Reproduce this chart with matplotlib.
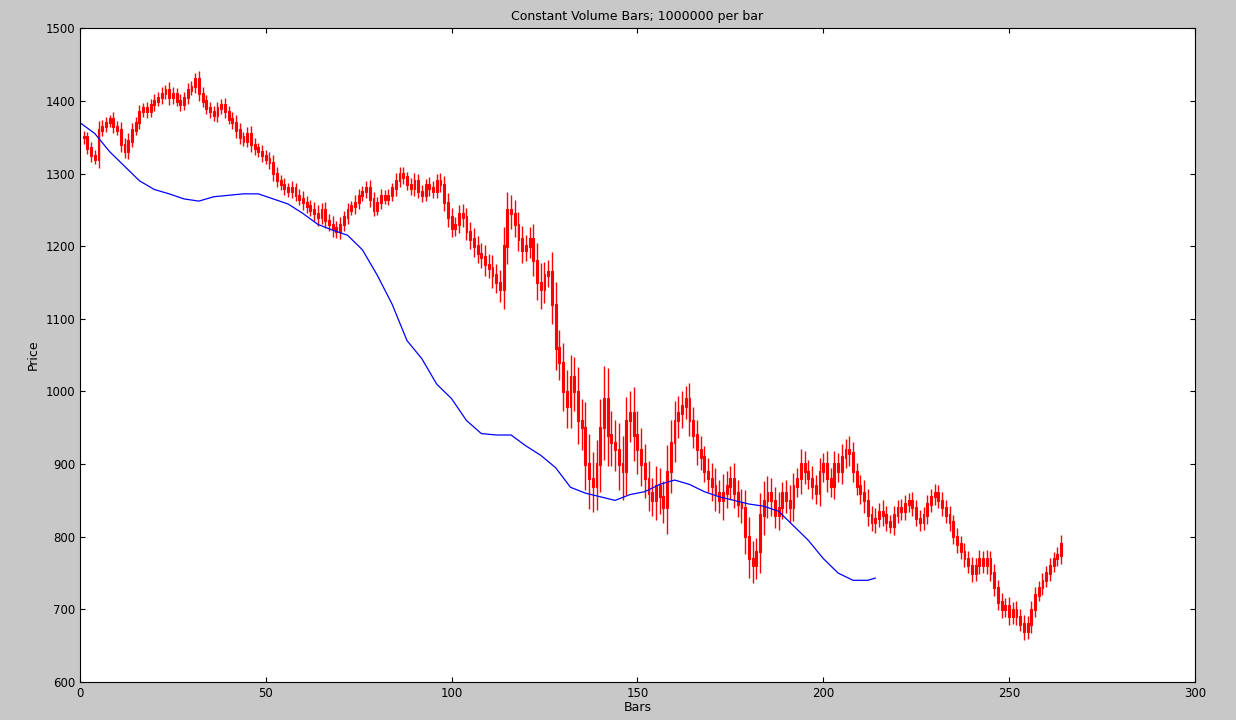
import numpy as np
import matplotlib.pyplot as plt

# closing price per bar
closes = [1350,1335,1325,1320,1360,1365,
          1370,1375,1365,1360,1340, 1330,1345,1360,1370,1385,
          1390,1385,1395,1400,1405, 1410,1415,1405,1410,1400,
          1395,1405,1415,1420,1430, 1410,1400,1390,1385,1380,
          1390,1395,1385,1375,1370, 1360,1350,1345,1355,1340,
          1335,1330,1325,1320,1315, 1300,1290,1285,1280,1275,
          1280,1270,1265,1260,1255, 1250,1245,1240,1250,1235,
          1230,1225,1220,1230,1240, 1250,1255,1260,1270,1275,
          1280,1265,1250,1260,1270, 1265,1270,1280,1290,1300,
          1295,1285,1280,1290,1275, 1270,1285,1280,1275,1290,
          1285,1260,1240,1225,1230, 1245,1240,1220,1210,1200,
          1190,1185,1175,1170,1160, 1150,1140,1200,1250,1245,
          1230,1210,1195,1200,1210, 1180,1150,1140,1160,1165,
          1120,1060,1040,1000,980, 1020,1000,960,950,900,
          880,870,900,950,990, 940,930,920,900,890,
          960,970,940,920,900, 880,860,850,870,855,
          840,890,930,960,970, 980,990,960,940,920,
          910,890,880,870,860, 850,860,870,880,860,
          845,840,800,770,760, 780,830,850,860,850,
          830,840,860,850,840, 870,880,900,890,880,
          870,860,890,900,880, 870,900,890,910,920,
          915,890,870,860,850, 830,820,825,835,830,
          820,815,830,840,835, 845,850,840,825,820,
          830,845,855,860,850, 840,830,820,800,790,
          780,770,760,750,760, 770,760,770,750,730,
          710,700,705,690,700, 690,680,670,680,700,
          720,730,740,750,760, 770,775,790]

# high-low range per bar (approx)
spreads = [30,25,30,25,40,30, 25,20,30,25,35, 30,35,30,25,30,
           25,30,25,30,25, 30,25,35,30,25, 30,25,30,25,30, 35,30,25,30,25,
           30,25,30,25,30, 35,30,25,30,35, 30,25,30,25,30, 35,30,25,30,25,
           30,25,30,35,30, 30,35,40,30,35, 30,40,30,35,30, 30,25,35,30,25,
           30,35,30,25,30, 25,30,25,35,30, 30,25,30,35,30, 30,25,35,30,30,
           35,40,45,40,35, 40,45,40,45,50, 45,50,55,45,60, 50,55,90,80,70,
           60,55,60,50,55, 70,80,90,60,55, 90,100,80,90,100, 100,90,110,100,120,
           140,120,110,130,150, 140,110,100,120,130, 110,100,120,110,100,
           90,80,70,90,80, 70,120,100,90,80, 70,60,70,60,70, 60,50,60,70,80,
           60,90,70,60,70, 60,70,80,90,80, 60,100,90,80,70, 60,70,50,60,70,
           60,50,70,60,50, 60,50,60,50,60, 50,60,50,60,50, 60,50,40,50,60,
           50,40,50,40,50, 40,35,40,35,40, 40,35,40,35,40, 35,40,35,40,35,
           40,35,40,35,40, 35,40,35,40,35, 40,35,40,35,40,
           35,40,35,40,35, 40,35,40,35,40, 35,30,35,30,35, 30,35,40]

# moving average line (bar index, value)
ma_x = [0,4,8,12,16,20,24,28,32,36,40,44,48,52,56,60,64,68,72,76,80,84,88,92,96,
        100,104,108,112,116,120,124,128,132,136,140,144,148,152,156,160,164,168,
        172,176,180,184,188,192,196,200,204,208,212,214]
ma_y = [1370,1355,1330,1310,1290,1278,1272,1265,1262,1268,1270,1272,1272,1265,1258,
        1245,1230,1222,1215,1195,1160,1120,1070,1045,1010,990,960,942,940,940,925,
        912,895,868,860,855,850,858,862,872,878,872,862,855,850,845,842,835,815,795,
        770,750,740,740,743]

closes = np.array(closes, float)
spreads = np.array(spreads[:len(closes)], float)
x = np.arange(1, len(closes) + 1)
opens = np.r_[closes[0], closes[:-1]]
hi = np.maximum(opens, closes) + spreads * 0.3
lo = np.minimum(opens, closes) - spreads * 0.3

fig = plt.figure(figsize=(12.36, 7.2), dpi=100, facecolor='#c8c8c8')
ax = fig.add_axes([0.0647, 0.0528, 0.902, 0.908])
ax.vlines(x, lo, hi, color='red', lw=1)
ax.bar(x, np.abs(closes - opens) + 2, bottom=np.minimum(opens, closes) - 1,
       width=0.5, color='red', edgecolor='red', lw=0.8)
ax.plot(ma_x, ma_y, color='blue', lw=0.9)
ax.set_xlim(0, 300)
ax.set_ylim(600, 1500)
ax.set_xticks(range(0, 301, 50))
ax.set_yticks(range(600, 1501, 100))
ax.tick_params(direction='in', labelsize=8.5, top=True, right=True)
ax.set_title('Constant Volume Bars; 1000000 per bar', fontsize=9)
ax.set_xlabel('Bars', fontsize=9, labelpad=1)
ax.set_ylabel('Price', fontsize=9)
fig.savefig('out.png', dpi=100, facecolor=fig.get_facecolor())
